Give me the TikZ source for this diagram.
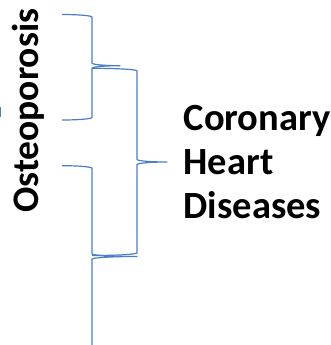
\documentclass[tikz,border=0pt]{standalone}
\usepackage{fontspec}
\setmainfont{Carlito}
\definecolor{bracecol}{HTML}{4A7EC7}
\newcommand\mybrace[7]{% L, S, T, y1, yt, y2, r
  \draw[bracestyle]
    (#1,#4) .. controls ({#1+0.552*(#2-#1)},#4) and (#2,{#4+#7-0.552*#7}) .. (#2,{#4+#7})
    -- (#2,{#5-#7}) .. controls (#2,{#5-#7+0.552*#7}) and ({#3-0.552*(#3-#2)},#5) .. (#3,#5)
    .. controls ({#3-0.552*(#3-#2)},#5) and (#2,{#5+#7-0.552*#7}) .. (#2,{#5+#7})
    -- (#2,{#6-#7}) .. controls (#2,{#6-#7+0.552*#7}) and ({#1+0.552*(#2-#1)},#6) .. (#1,#6);
}
\begin{document}
\begin{tikzpicture}[x=1pt,y=-1pt,
  bracestyle/.style={draw=bracecol,line width=1.2pt,line join=round},
  label/.style={inner sep=0pt,font=\fontsize{37.5}{44}\selectfont\bfseries,text=black},
  rlabel/.style={label,font=\fontsize{38.5}{44}\selectfont\bfseries}]
\useasboundingbox (0,0) rectangle (331,345);
\clip (0,0) rectangle (331,345);
% braces
\mybrace{62}{92}{120}{14.5}{65.7}{120}{2.6}
\mybrace{92}{137}{167}{68.3}{162}{255.5}{2.6}
\mybrace{62}{92}{137}{165.7}{256.5}{380}{2.6}
\coordinate (tip) at (167,162);
% small fragment at left edge
\draw[bracestyle,line width=0.6pt] (0.6,107) -- (0.6,117);
% labels
\node[label,rotate=90,anchor=base west] (osteo) at (38.5,213) {Osteoporosis};
\node[rlabel,anchor=base west] (coronary) at (183.5,130) {Coronary};
\node[rlabel,anchor=base west] (heart) at (183.5,174) {Heart};
\node[rlabel,anchor=base west] (diseases) at (183.5,218) {Diseases};
\end{tikzpicture}
\end{document}
